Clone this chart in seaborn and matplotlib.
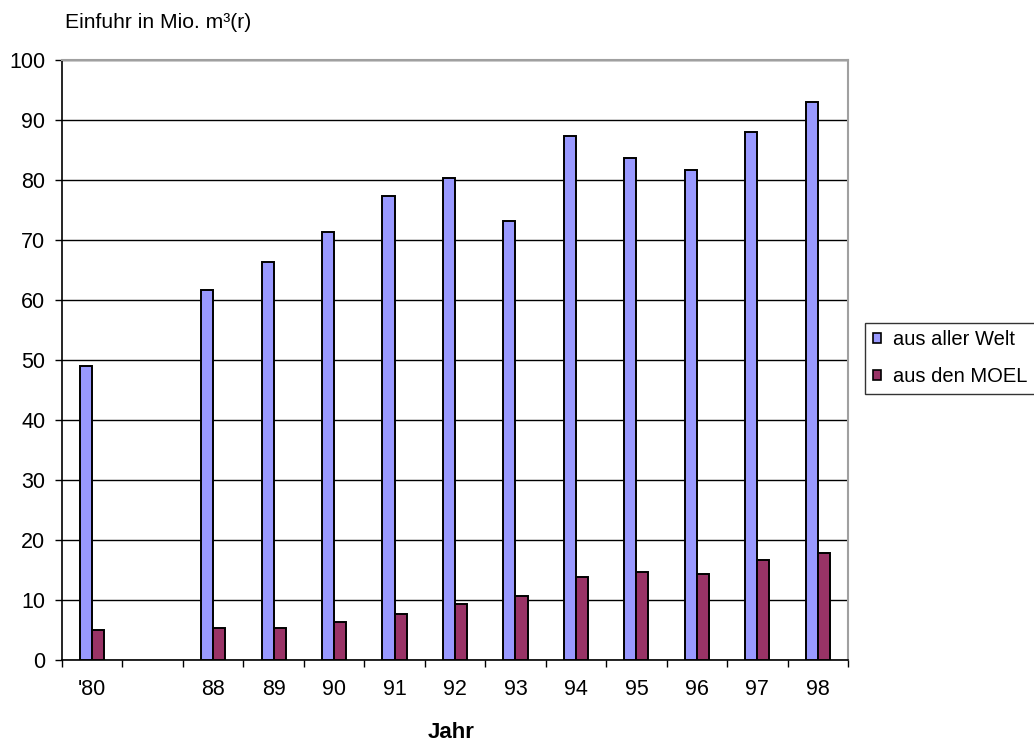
import numpy as np
import pandas as pd
import matplotlib
matplotlib.use("Agg")
import matplotlib.pyplot as plt
import seaborn as sns
from matplotlib.ticker import FixedLocator

years = ["'80", " ", "88", "89", "90", "91", "92", "93", "94", "95", "96", "97", "98"]
data_years = ["'80", "88", "89", "90", "91", "92", "93", "94", "95", "96", "97", "98"]
welt = [49.0, 61.7, 66.3, 71.3, 77.3, 80.3, 73.2, 87.3, 83.7, 81.7, 88.0, 93.0]
moel = [5.0, 5.3, 5.3, 6.3, 7.6, 9.3, 10.6, 13.9, 14.6, 14.3, 16.7, 17.9]
series = ["aus aller Welt", "aus den MOEL"]
colors = ["#9999FF", "#993366"]
yticks = list(range(0, 101, 10))

sns.set_theme(style="white")
plt.rcParams['font.family'] = ['Liberation Sans', 'DejaVu Sans']
plt.rcParams['text.color'] = 'black'
plt.rcParams['xtick.color'] = 'black'
plt.rcParams['ytick.color'] = 'black'
plt.rcParams['xtick.labelcolor'] = 'black'
plt.rcParams['ytick.labelcolor'] = 'black'

df = pd.DataFrame({
    "Jahr": data_years * 2,
    "Wert": welt + moel,
    "Serie": [series[0]] * len(welt) + [series[1]] * len(moel),
})

fig = plt.figure(figsize=(10.34, 7.47), dpi=100)
ax = fig.add_axes([62 / 1034, 1 - 660 / 747, (848 - 62) / 1034, 600 / 747])

sns.barplot(data=df, x="Jahr", y="Wert", hue="Serie", order=years, hue_order=series,
            palette=colors, width=0.4, edgecolor="black", linewidth=1.4,
            saturation=1, ax=ax, legend=True, zorder=3)

FS = 15.5
ax.set_ylim(0, 100)
ax.set_xlim(-0.5, len(years) - 0.5)
ax.set_yticks(yticks)
ax.set_yticklabels([str(t) for t in yticks], fontsize=FS)
ax.yaxis.grid(True, color="black", linewidth=1.0, zorder=0)
ax.set_axisbelow(True)

ax.tick_params(axis="x", which="major", length=0, pad=14, labelsize=FS)
ax.xaxis.set_minor_locator(FixedLocator(np.arange(-0.5, len(years), 1.0)))
ax.tick_params(axis="x", which="minor", length=5, width=1, color="black", direction="out", bottom=True)
ax.tick_params(axis="y", length=5, width=1, color="black", direction="out", left=True, pad=7)

for s in ["left", "bottom"]:
    ax.spines[s].set_color("black")
    ax.spines[s].set_linewidth(1.2)
for s in ["top", "right"]:
    ax.spines[s].set_color("#a0a0a0")
    ax.spines[s].set_linewidth(1.5)

ax.set_xlabel("")
ax.set_ylabel("")
fig.text(451 / 1034, 1 - 732 / 747, "Jahr", ha="center", va="center", fontsize=16, fontweight="bold")
fig.text(65 / 1034, 1 - 22 / 747, "Einfuhr in Mio. m³(r)", ha="left", va="center", fontsize=15.2)

leg = ax.legend(loc="upper left", bbox_to_anchor=(865 / 1034, 1 - 322.7 / 747),
                bbox_transform=fig.transFigure, frameon=True, fancybox=False,
                edgecolor="black", fontsize=14.5, handlelength=0.4, handleheight=0.4,
                handletextpad=0.6, labelspacing=0.9, borderpad=0.38, borderaxespad=0)
leg.get_frame().set_linewidth(1.0)
for h in leg.legend_handles:
    h.set_edgecolor("black")
    h.set_linewidth(1.2)

fig.savefig("out.png", dpi=100)
